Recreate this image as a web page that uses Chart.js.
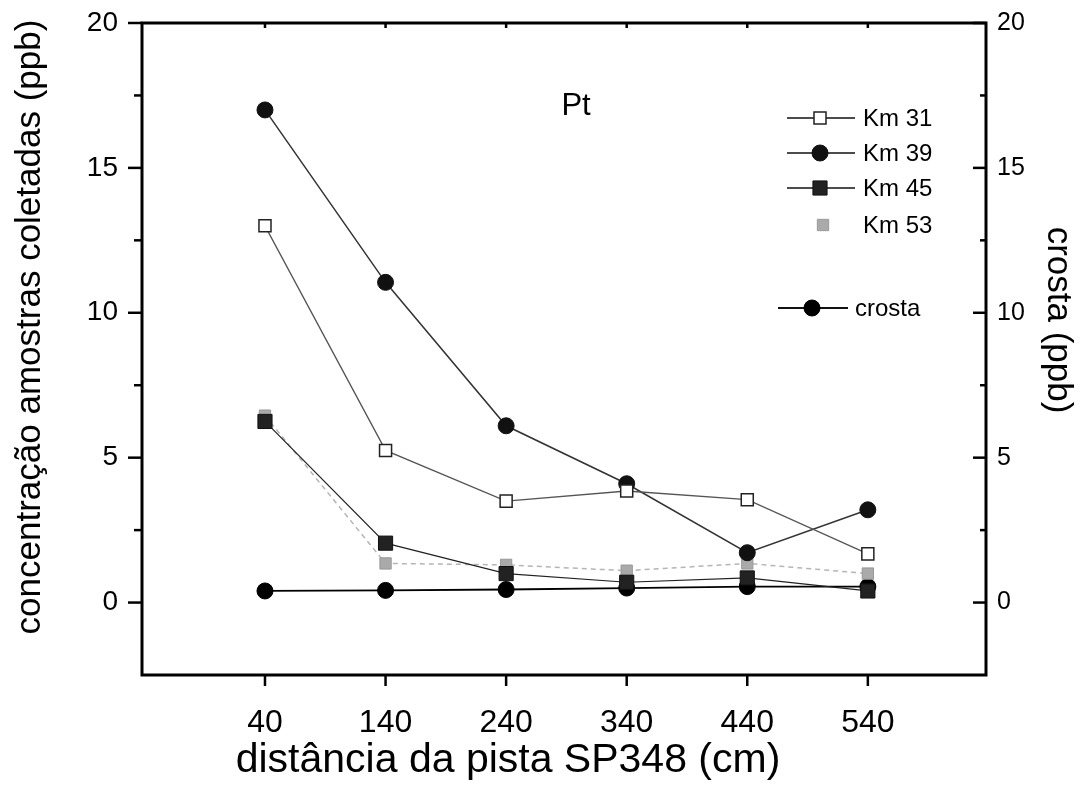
<!DOCTYPE html>
<html><head><meta charset="utf-8">
<script src="https://cdn.jsdelivr.net/npm/chart.js@4/dist/chart.umd.min.js"></script>
<style>html,body{margin:0;padding:0;background:#fff;}#wrap{width:1091px;height:794px;position:relative;}</style>
</head><body><div id="wrap"><canvas id="c" width="1091" height="794"></canvas></div>
<script>
const distances = [40, 140, 240, 340, 440, 540];
const km31 = [13.0, 5.25, 3.5, 3.85, 3.55, 1.68];
const km39 = [17.0, 11.05, 6.1, 4.1, 1.72, 3.2];
const km45 = [6.25, 2.05, 1.0, 0.7, 0.85, 0.4];
const km53 = [6.45, 1.35, 1.3, 1.1, 1.35, 1.0];
const crosta = [0.4, 0.42, 0.45, 0.5, 0.55, 0.55];
const xTicks = [40, 140, 240, 340, 440, 540];
const yTicks = [0, 5, 10, 15, 20];
const yMinorTicks = [2.5, 7.5, 12.5, 17.5];
const seriesNames = ['Km 31', 'Km 39', 'Km 45', 'Km 53', 'crosta'];
const xTitle = 'distância da pista SP348 (cm)';
const yTitle = 'concentração amostras coletadas (ppb)';
const y2Title = 'crosta (ppb)';
const panelLabel = 'Pt';

const FONT = "'Liberation Sans', Arial, sans-serif";
const pts = (arr) => distances.map((d, i) => ({x: d, y: arr[i]}));

const datasets = [
  {label: seriesNames[0], data: pts(km31), yAxisID: 'y', borderColor: '#555', borderWidth: 1.3,
   pointStyle: 'rect', pointRadius: 8.5, pointBackgroundColor: '#fff', pointBorderColor: '#222', pointBorderWidth: 1.5},
  {label: seriesNames[1], data: pts(km39), yAxisID: 'y', borderColor: '#333', borderWidth: 1.5,
   pointStyle: 'circle', pointRadius: 8, pointBackgroundColor: '#111', pointBorderColor: '#111', pointBorderWidth: 1},
  {label: seriesNames[2], data: pts(km45), yAxisID: 'y', borderColor: '#222', borderWidth: 1.2,
   pointStyle: 'rect', pointRadius: 10, pointBackgroundColor: '#222', pointBorderColor: '#111', pointBorderWidth: 1},
  {label: seriesNames[3], data: pts(km53), yAxisID: 'y', borderColor: '#b5b5b5', borderWidth: 1.5, borderDash: [5, 4],
   pointStyle: 'rect', pointRadius: 8, pointBackgroundColor: '#aaa', pointBorderColor: '#999', pointBorderWidth: 1},
  {label: seriesNames[4], data: pts(crosta), yAxisID: 'y2', borderColor: '#000', borderWidth: 1.8,
   pointStyle: 'circle', pointRadius: 8, pointBackgroundColor: '#000', pointBorderColor: '#000', pointBorderWidth: 1}
];

function drawMarker(ctx, ds, x, y) {
  ctx.save();
  ctx.fillStyle = ds.pointBackgroundColor;
  ctx.strokeStyle = ds.pointBorderColor;
  ctx.lineWidth = ds.pointBorderWidth;
  ctx.beginPath();
  if (ds.pointStyle === 'circle') {
    ctx.arc(x, y, ds.pointRadius, 0, Math.PI * 2);
  } else {
    const s = ds.pointRadius / Math.SQRT2;
    ctx.rect(x - s, y - s, 2 * s, 2 * s);
  }
  ctx.fill(); ctx.stroke();
  ctx.restore();
}

const legendItems = [
  {ds: 0, y: 118, l1: 787, l2: 855, mx: 820, tx: 863},
  {ds: 1, y: 153, l1: 787, l2: 855, mx: 820, tx: 863},
  {ds: 2, y: 188, l1: 787, l2: 855, mx: 820, tx: 863},
  {ds: 3, y: 225, l1: 805, l2: 805, mx: 823, tx: 863},
  {ds: 4, y: 308, l1: 778, l2: 848, mx: 812, tx: 855}
];

const decor = {
  id: 'decor',
  afterDraw(chart) {
    const ctx = chart.ctx, a = chart.chartArea;
    const sx = chart.scales.x, sy = chart.scales.y, sy2 = chart.scales.y2;
    const line = (x1, y1, x2, y2) => { ctx.beginPath(); ctx.moveTo(x1, y1); ctx.lineTo(x2, y2); ctx.stroke(); };
    ctx.save();
    ctx.strokeStyle = '#000';
    ctx.lineWidth = 3;
    ctx.strokeRect(a.left, a.top, a.right - a.left, a.bottom - a.top);
    ctx.lineWidth = 2.5;
    yTicks.forEach(v => { const p = sy.getPixelForValue(v); line(a.left - 14, p, a.left, p); });
    yMinorTicks.forEach(v => { const p = sy.getPixelForValue(v); line(a.left - 8, p, a.left, p); });
    yTicks.forEach(v => { const p = sy2.getPixelForValue(v); line(a.right - 13, p, a.right, p); });
    yMinorTicks.forEach(v => { const p = sy2.getPixelForValue(v); line(a.right - 6, p, a.right, p); });
    xTicks.forEach(v => { const p = sx.getPixelForValue(v); line(p, a.bottom, p, a.bottom + 11); line(p, a.top, p, a.top + 5); });
    // legend
    ctx.font = '24px ' + FONT;
    ctx.textBaseline = 'middle';
    ctx.textAlign = 'left';
    legendItems.forEach(it => {
      const ds = chart.data.datasets[it.ds];
      ctx.strokeStyle = it.ds === 3 ? '#b5b5b5' : '#111';
      ctx.lineWidth = it.ds === 4 ? 2 : 1.3;
      if (it.l2 > it.l1) line(it.l1, it.y, it.l2, it.y);
      drawMarker(ctx, ds, it.mx, it.y);
      ctx.fillStyle = '#000';
      ctx.fillText(ds.label, it.tx, it.y + 1);
    });
    ctx.fillStyle = '#000';
    // panel label
    ctx.font = '31px ' + FONT;
    ctx.textAlign = 'center';
    ctx.textBaseline = 'alphabetic';
    ctx.fillText(panelLabel, sx.getPixelForValue(298), 115);
    // axis titles
    ctx.font = '41px ' + FONT;
    ctx.fillText(xTitle, 508, 772);
    ctx.font = '35px ' + FONT;
    ctx.textBaseline = 'middle';
    ctx.save(); ctx.translate(30, 327); ctx.rotate(-Math.PI / 2); ctx.fillText(yTitle, 0, 0); ctx.restore();
    ctx.save(); ctx.translate(1058, 320); ctx.rotate(Math.PI / 2); ctx.fillText(y2Title, 0, 0); ctx.restore();
    ctx.restore();
  }
};

const hiddenGrid = (len) => ({display: true, drawOnChartArea: false, drawTicks: true, tickLength: len, color: 'rgba(0,0,0,0)'});

new Chart(document.getElementById('c'), {
  type: 'line',
  data: {datasets},
  options: {
    responsive: false,
    animation: false,
    layout: {padding: {top: 23, left: 0, right: 0, bottom: 0}},
    plugins: {legend: {display: false}, tooltip: {enabled: false}},
    elements: {line: {tension: 0}},
    scales: {
      x: {
        type: 'linear', position: 'bottom', min: -62, max: 638,
        afterBuildTicks: s => { s.ticks = xTicks.map(v => ({value: v})); },
        afterFit: s => { s.height = 119; },
        grid: hiddenGrid(27),
        border: {display: false},
        ticks: {color: '#000', padding: 2, font: {family: FONT, size: 32}, maxRotation: 0, callback: v => String(v)}
      },
      y: {
        type: 'linear', position: 'left', min: -2.5, max: 20,
        afterBuildTicks: s => { s.ticks = yTicks.map(v => ({value: v})); },
        afterFit: s => { s.width = 142; },
        grid: hiddenGrid(22),
        border: {display: false},
        ticks: {color: '#000', padding: 2, font: {family: FONT, size: 28}, callback: v => String(v)}
      },
      y2: {
        type: 'linear', position: 'right', min: -2.5, max: 20,
        afterBuildTicks: s => { s.ticks = yTicks.map(v => ({value: v})); },
        afterFit: s => { s.width = 105; },
        grid: hiddenGrid(9),
        border: {display: false},
        ticks: {color: '#000', padding: 2, font: {family: FONT, size: 25}, callback: v => String(v)}
      }
    }
  },
  plugins: [decor]
});
</script>
</body></html>
